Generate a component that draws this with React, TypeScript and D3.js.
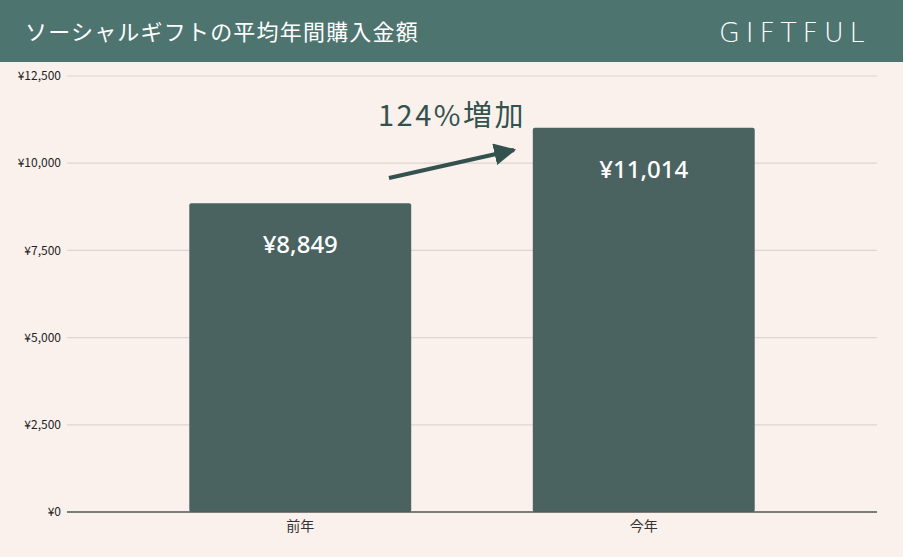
import React from "react";
import * as d3 from "d3";

const categories = ["前年", "今年"];
const values = [8849, 11014];
const valueLabels = ["¥8,849", "¥11,014"];
const yTicks = [0, 2500, 5000, 7500, 10000, 12500];
const yTickLabels = ["¥0", "¥2,500", "¥5,000", "¥7,500", "¥10,000", "¥12,500"];
const title = "ソーシャルギフトの平均年間購入金額";
const brand = "GIFTFUL";
const annotation = "124%増加";

const W = 903;
const H = 557;
const FONT = "'Noto Sans CJK JP', 'Noto Sans', sans-serif";

export default function App() {
  const x = d3.scaleBand<string>().domain(categories).range([67, 877]).paddingInner(0.354).paddingOuter(0.356);
  const y = d3.scaleLinear().domain([0, 12500]).range([512, 76]);
  const bw = x.bandwidth();

  return (
    <div style={{ position: "absolute", left: 0, top: 0 }}>
      <svg width={W} height={H} style={{ display: "block" }}>
        <defs>
          <marker id="ah" viewBox="0 0 10 10" refX="9" refY="5" markerWidth="5.5" markerHeight="5.5" orient="auto" markerUnits="strokeWidth">
            <path d="M0,0 L10,5 L0,10 z" fill="#33514e" />
          </marker>
        </defs>
        <rect width={W} height={H} fill="#faf1ec" />
        <rect width={W} height={62} fill="#4e7470" />
        <text x={25} y={40} fill="#ffffff" fontFamily={FONT} fontSize={22} fontWeight={400} letterSpacing={1.2}>{title}</text>
        <text x={719} y={42} fill="#ffffff" fontFamily="'DejaVu Sans', sans-serif" fontWeight={200} fontSize={27} letterSpacing={4.5} textLength={150}>{brand}</text>

        {yTicks.map((t, i) => (
          <g key={t}>
            {t !== 0 && <line x1={67} x2={877} y1={y(t)} y2={y(t)} stroke="#dbd5d3" strokeWidth={1.2} />}
            <text x={61} y={y(t)} dy="0.35em" textAnchor="end" fontFamily={FONT} fontSize={12} fill="#222">{yTickLabels[i]}</text>
          </g>
        ))}

        {categories.map((c, i) => (
          <g key={c}>
            <rect x={x(c)} y={y(values[i])} width={bw} height={y(0) - y(values[i])} rx={2} fill="#4a6360" />
            <text x={x(c)! + bw / 2} y={y(values[i]) + 50} textAnchor="middle" fontFamily="'Noto Sans', sans-serif" fontSize={24} fontWeight={500} fill="#ffffff">{valueLabels[i]}</text>
            <text x={x(c)! + bw / 2} y={531} textAnchor="middle" fontFamily={FONT} fontSize={14} fill="#333">{c}</text>
          </g>
        ))}
        <line x1={67} x2={877} y1={y(0)} y2={y(0)} stroke="#555" strokeWidth={1.5} />

        <text x={378} y={126} fontFamily={FONT} fontSize={29} fontWeight={400} fill="#33514e" letterSpacing={2.5}>{annotation}</text>
        <line x1={389} y1={178} x2={514} y2={150} stroke="#33514e" strokeWidth={4} markerEnd="url(#ah)" />
      </svg>
    </div>
  );
}
